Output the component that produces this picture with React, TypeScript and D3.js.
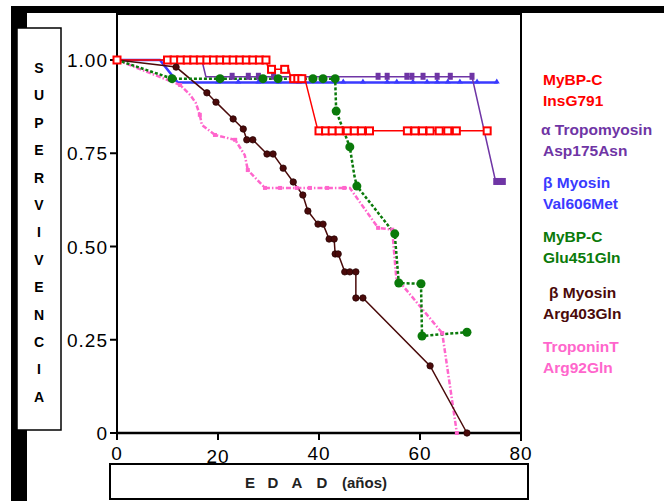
import React from "react";
import * as d3 from "d3";

// ---------- DATA ----------
const xTicks = [0, 20, 40, 60, 80];
const yTicks = [0, 0.25, 0.5, 0.75, 1.0];
const yTickLabels = ["0", "0.25", "0.50", "0.75", "1.00"];
const yLetters = ["S", "U", "P", "E", "R", "V", "I", "V", "E", "N", "C", "I", "A"];

// MyBP-C InsG791 (red)
const insLine: [number, number][] = [[0, 1], [29.5, 1], [30, 0.975], [34, 0.975], [34.5, 0.95], [37.2, 0.95], [39.8, 0.81], [73.3, 0.81]];
const insMarks: [number, number][] = [
  [0, 1], [10, 1], [11.3, 1], [12.6, 1], [13.9, 1], [15.2, 1], [16.5, 1], [17.8, 1], [19.1, 1], [20.4, 1], [21.7, 1], [23, 1], [24.3, 1], [25.6, 1], [26.9, 1], [28.2, 1], [29.5, 1],
  [30.6, 0.975], [33.2, 0.975],
  [35, 0.95], [35.8, 0.95], [36.6, 0.95],
  [40, 0.81], [41.3, 0.81], [42.6, 0.81], [44, 0.81], [45.6, 0.81], [47, 0.81], [48.4, 0.81], [50, 0.81],
  [57.5, 0.81], [59, 0.81], [60.5, 0.81], [62, 0.81], [63.8, 0.81], [65.5, 0.81], [67.2, 0.81], [73.3, 0.81],
];

// alpha Tropomyosin Asp175Asn (purple)
const tpmLine: [number, number][] = [[0, 1], [16.8, 1], [17.6, 0.955], [70.3, 0.955], [75, 0.673], [76.5, 0.673]];
const tpmMarks: [number, number][] = [[22.8, 0.955], [26, 0.955], [28, 0.955], [31, 0.955], [51.7, 0.955], [53.5, 0.955], [57.4, 0.955], [58.4, 0.955], [60.6, 0.955], [63.4, 0.955], [66, 0.955], [70.3, 0.955], [75, 0.673], [75.8, 0.673], [76.5, 0.673]];

// beta Myosin Val606Met (blue)
const valLine: [number, number][] = [[0, 1], [8.5, 1], [12, 0.94], [75.4, 0.94]];
const valMarks: [number, number][] = [[20, 0.94], [24, 0.94], [28, 0.94], [32, 0.94], [36, 0.94], [44.8, 0.94], [48.7, 0.94], [53.5, 0.94], [55.4, 0.94], [58.6, 0.94], [61.4, 0.94], [63.4, 0.94], [65.5, 0.94], [67.9, 0.94], [71.3, 0.94], [75.2, 0.94]];

// MyBP-C Glu451Gln (green)
const gluLine: [number, number][] = [[0, 1], [10.9, 0.95], [43.2, 0.95], [43.4, 0.863], [46.1, 0.767], [47, 0.69], [47.5, 0.662], [55, 0.534], [55.8, 0.402], [60.2, 0.4], [60.4, 0.26], [64.4, 0.265], [69.3, 0.27]];
const gluMarks: [number, number][] = [[10.9, 0.95], [20.4, 0.95], [28.9, 0.95], [31.9, 0.95], [38.8, 0.95], [40.8, 0.95], [43.2, 0.95], [43.4, 0.863], [46.1, 0.767], [47.5, 0.662], [55, 0.534], [55.8, 0.402], [60.2, 0.4], [60.4, 0.26], [69.3, 0.27]];

// beta Myosin Arg403Gln (brown)
const argLine: [number, number][] = [
  [0, 1], [11.7, 0.981], [17.8, 0.912], [19.6, 0.887], [23, 0.842], [25, 0.815], [25.7, 0.786], [26.9, 0.786], [29.7, 0.748], [30.9, 0.748],
  [32.9, 0.71], [34.9, 0.673], [36.8, 0.638], [37.8, 0.595], [39.8, 0.56], [40.8, 0.56], [42, 0.52], [43, 0.52], [43.2, 0.48], [43.8, 0.48],
  [45.1, 0.432], [46.1, 0.432], [47.3, 0.432], [47.3, 0.362], [48.7, 0.362], [62, 0.18], [69.3, 0],
];
const argMarks: [number, number][] = [
  [11.7, 0.981], [17.8, 0.912], [19.6, 0.887], [23, 0.842], [25, 0.815], [25.7, 0.786], [26.9, 0.786], [29.7, 0.748], [30.9, 0.748],
  [32.9, 0.71], [34.9, 0.673], [36.8, 0.638], [37.8, 0.595], [39.8, 0.56], [40.8, 0.56], [42, 0.52], [43, 0.52], [43.2, 0.48], [43.8, 0.48],
  [45.1, 0.432], [46.1, 0.432], [47.3, 0.432], [47.3, 0.362], [48.7, 0.362], [62, 0.18], [69.3, 0],
];

// Troponin T Arg92Gln (pink)
const tntLine: [number, number][] = [
  [0, 1], [12.5, 0.933], [14.5, 0.906], [15.6, 0.885], [16.4, 0.853], [16.8, 0.826], [19.4, 0.799], [23.4, 0.786], [25.3, 0.745], [25.9, 0.705],
  [29.3, 0.657], [46.1, 0.657], [51.7, 0.55], [54.5, 0.545], [55.3, 0.416], [64.4, 0.268], [67.3, 0],
];
const tntMarks: [number, number][] = [[12.5, 0.933], [16.4, 0.853], [19.4, 0.799], [23.4, 0.786], [25.9, 0.705], [29.3, 0.657], [32.3, 0.657], [35.6, 0.657], [38.2, 0.657], [41.6, 0.657], [45, 0.657], [51.7, 0.55], [54.5, 0.545], [64.4, 0.268], [67.3, 0]];

const legendNames = [
  ["MyBP-C", "InsG791"],
  ["\u03b1 Tropomyosin", "Asp175Asn"],
  ["\u03b2 Myosin", "Val606Met"],
  ["MyBP-C", "Glu451Gln"],
  ["\u03b2 Myosin", "Arg403Gln"],
  ["TroponinT", "Arg92Gln"],
];

// ---------- STYLE ----------
const colors = ["#ff0000", "#6f35a5", "#3a3aff", "#0a7a0a", "#4a0a0a", "#ff66cc"];
const legendY = [85, 135, 188, 242, 298, 352];
const legendX = [543, 541, 543, 543, 549, 543];
const FONT = "'Liberation Sans', Arial, sans-serif";

export default function App() {
  const x = d3.scaleLinear().domain([0, 80]).range([117, 521]);
  const y = d3.scaleLinear().domain([0, 1]).range([433, 60]);
  const line = d3.line<[number, number]>().x((d) => x(d[0])).y((d) => y(d[1]));

  return (
    <svg width={664} height={501} style={{ position: "absolute", left: 0, top: 0, background: "#fff" }} fontFamily={FONT}>
      {/* frame */}
      <rect x={11} y={6} width={653} height={7} fill="#000" />
      <rect x={11} y={6} width={16} height={495} fill="#000" />
      <rect x={17} y={28} width={44} height={402} fill="#fff" stroke="#000" strokeWidth={1.5} />
      {yLetters.map((l, i) => (
        <text key={i} x={39} y={73 + i * 27.4} textAnchor="middle" fontSize={14} fontWeight="bold">{l}</text>
      ))}

      {/* plot frame */}
      <path d={`M117,433 L117,14 L521,14 L521,441`} fill="none" stroke="#000" strokeWidth={2} />
      <line x1={116} x2={522} y1={433} y2={433} stroke="#000" strokeWidth={2.5} />
      {yTicks.map((t, i) => (
        <g key={i}>
          <line x1={110} x2={117} y1={y(t)} y2={y(t)} stroke="#000" strokeWidth={2} />
          <text x={108} y={y(t) + 7} textAnchor="end" fontSize={19} letterSpacing={1}>{yTickLabels[i]}</text>
        </g>
      ))}
      {xTicks.map((t, i) => (
        <g key={i}>
          <line x1={x(t)} x2={x(t)} y1={433} y2={440} stroke="#000" strokeWidth={2} />
          <text x={x(t)} y={i === 1 ? 463 : 460} textAnchor="middle" fontSize={19} letterSpacing={1}>{t}</text>
        </g>
      ))}

      {/* x label box */}
      <rect x={110} y={464} width={418} height={35} fill="#fff" stroke="#000" strokeWidth={2} />
      <g fontSize={15} fontWeight="bold" fill="#222">
        <text x={250} y={488} textAnchor="middle">E</text>
        <text x={273} y={488} textAnchor="middle">D</text>
        <text x={297} y={488} textAnchor="middle">A</text>
        <text x={322} y={488} textAnchor="middle">D</text>
        <text x={342} y={488}>(años)</text>
      </g>

      {/* series lines */}
      <path d={line(valLine)!} fill="none" stroke={colors[2]} strokeWidth={2.5} />
      <path d={line(tpmLine)!} fill="none" stroke={colors[1]} strokeWidth={1.5} />
      <path d={line(insLine)!} fill="none" stroke={colors[0]} strokeWidth={1.5} />
      <path d={line(tntLine)!} fill="none" stroke={colors[5]} strokeWidth={2.5} strokeDasharray="5,2,1.5,2" />
      <path d={line(argLine)!} fill="none" stroke={colors[4]} strokeWidth={1.5} />
      <path d={line(gluLine)!} fill="none" stroke={colors[3]} strokeWidth={2.5} strokeDasharray="3,2" />

      {/* markers */}
      {valMarks.map((d, i) => (
        <path key={"v" + i} d={`M${x(d[0]) - 3},${y(d[1]) + 1} L${x(d[0])},${y(d[1]) - 4} L${x(d[0]) + 3},${y(d[1]) + 1} Z`} fill={colors[2]} />
      ))}
      {tpmMarks.map((d, i) => (
        <rect key={"p" + i} x={x(d[0]) - 2.5} y={y(d[1]) - 4} width={5} height={7} fill={colors[1]} />
      ))}
      {insMarks.map((d, i) => (
        <rect key={"r" + i} x={x(d[0]) - 3.5} y={y(d[1]) - 3.5} width={7} height={7} fill="#fff" stroke={colors[0]} strokeWidth={2} />
      ))}
      {tntMarks.map((d, i) => (
        <rect key={"t" + i} x={x(d[0]) - 2} y={y(d[1]) - 2} width={4} height={4} fill={colors[5]} />
      ))}
      {argMarks.map((d, i) => (
        <circle key={"a" + i} cx={x(d[0])} cy={y(d[1])} r={3.2} fill={colors[4]} stroke="#2a0505" strokeWidth={0.8} />
      ))}
      {gluMarks.map((d, i) => (
        <circle key={"g" + i} cx={x(d[0])} cy={y(d[1])} r={4.5} fill={colors[3]} />
      ))}

      {/* legend */}
      {legendNames.map((n, i) => (
        <g key={i} fill={colors[i]} fontSize={15.5} fontWeight="bold">
          <text x={legendX[i]} y={legendY[i]}>{n[0]}</text>
          <text x={543} y={legendY[i] + 21}>{n[1]}</text>
        </g>
      ))}
    </svg>
  );
}
